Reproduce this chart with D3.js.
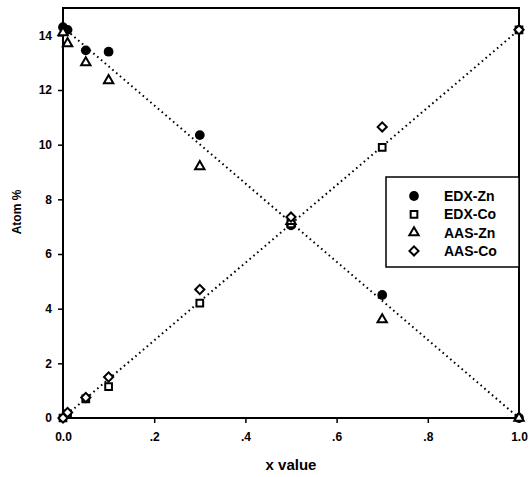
<!DOCTYPE html>
<html>
<head>
<meta charset="utf-8">
<script src="https://cdn.jsdelivr.net/npm/d3@7.9.0/dist/d3.min.js"></script>
<style>
  body { margin: 0; background: #fff; }
  svg { display: block; font-family: "Liberation Sans", Arial, sans-serif; font-weight: bold; }
</style>
</head>
<body>
<svg width="530" height="477"></svg>
<script>
// x positions of the samples
const xs = [0.0, 0.01, 0.05, 0.1, 0.3, 0.5, 0.7, 1.0];

// atom %
const edxZn = [14.3, 14.2, 13.45, 13.4, 10.35, 7.05, 4.5, 0.0];
const edxCo = [0.0, 0.15, 0.7, 1.15, 4.2, 7.1, 9.9, 14.2];
const aasZn = [14.1, 13.7, 13.0, 12.35, 9.2, 7.2, 3.6, 0.0];
const aasCo = [0.0, 0.2, 0.75, 1.5, 4.7, 7.35, 10.65, 14.2];

const xTicks = [0, 0.2, 0.4, 0.6, 0.8, 1.0];
const xTickLabels = ["0.0", ".2", ".4", ".6", ".8", "1.0"];
const yTicks = [0, 2, 4, 6, 8, 10, 12, 14];

// fitted lines (endpoints)
const fitZn = [[0, 14.3], [1, 0]];
const fitCo = [[0, 0], [1, 14.2]];

const series = [
  { name: "EDX-Zn", values: edxZn, shape: "circle" },
  { name: "EDX-Co", values: edxCo, shape: "square" },
  { name: "AAS-Zn", values: aasZn, shape: "triangle" },
  { name: "AAS-Co", values: aasCo, shape: "diamond" }
];

const svg = d3.select("svg");
const m = { left: 63, right: 519, top: 8, bottom: 418 };

const x = d3.scaleLinear().domain([0, 1]).range([m.left, m.right]);
const y = d3.scaleLinear().domain([0, 15]).range([m.bottom, m.top]);

// frame
svg.append("rect")
  .attr("x", m.left).attr("y", m.top)
  .attr("width", m.right - m.left).attr("height", m.bottom - m.top)
  .attr("fill", "none").attr("stroke", "#000").attr("stroke-width", 2);

// axes
const xAxis = svg.append("g")
  .attr("transform", `translate(0,${m.bottom})`)
  .call(d3.axisBottom(x).tickValues(xTicks).tickFormat((d, i) => xTickLabels[i]).tickSize(5).tickPadding(9));
const yAxis = svg.append("g")
  .attr("transform", `translate(${m.left},0)`)
  .call(d3.axisLeft(y).tickValues(yTicks).tickSize(5).tickPadding(6));

[xAxis, yAxis].forEach(g => {
  g.select(".domain").remove();
  g.selectAll(".tick line").attr("stroke", "#000").attr("stroke-width", 1.5);
  g.selectAll("text").attr("font-size", 12).attr("font-weight", "bold").attr("fill", "#000")
    .attr("font-family", "Liberation Sans, Arial, sans-serif");
});

// axis titles
svg.append("text")
  .attr("x", 291).attr("y", 470)
  .attr("text-anchor", "middle").attr("font-size", 15)
  .text("x value");
svg.append("text")
  .attr("transform", "translate(21,212) rotate(-90)")
  .attr("text-anchor", "middle").attr("font-size", 12)
  .text("Atom %");

// dotted fit lines
const line = d3.line().x(d => x(d[0])).y(d => y(d[1]));
[fitZn, fitCo].forEach(f => {
  svg.append("path")
    .attr("d", line(f))
    .attr("fill", "none").attr("stroke", "#000")
    .attr("stroke-width", 2).attr("stroke-dasharray", "1.6,3.4");
});

const symbols = {
  circle: d3.symbol().type(d3.symbolCircle).size(75),
  square: d3.symbol().type(d3.symbolSquare).size(45),
  triangle: d3.symbol().type(d3.symbolTriangle).size(38),
  diamond: d3.symbol().type(d3.symbolSquare).size(42)
};

function drawMark(g, shape) {
  g.append("path")
    .attr("d", symbols[shape]())
    .attr("transform", shape === "diamond" ? "rotate(45)" : null)
    .attr("fill", shape === "circle" ? "#000" : "#fff")
    .attr("stroke", "#000")
    .attr("stroke-width", shape === "circle" ? 0 : 2);
}

series.forEach(s => {
  s.values.forEach((v, i) => {
    const g = svg.append("g").attr("transform", `translate(${x(xs[i])},${y(v)})`);
    drawMark(g, s.shape);
  });
});

// legend
const lg = svg.append("g");
lg.append("rect")
  .attr("x", 386).attr("y", 177).attr("width", 133).attr("height", 90)
  .attr("fill", "#fff").attr("stroke", "#000").attr("stroke-width", 1.5);
series.forEach((s, i) => {
  const cy = 196 + i * 18.3;
  const g = lg.append("g").attr("transform", `translate(414,${cy})`);
  drawMark(g, s.shape);
  lg.append("text")
    .attr("x", 444).attr("y", cy + 5)
    .attr("font-size", 14)
    .text(s.name);
});
</script>
</body>
</html>
